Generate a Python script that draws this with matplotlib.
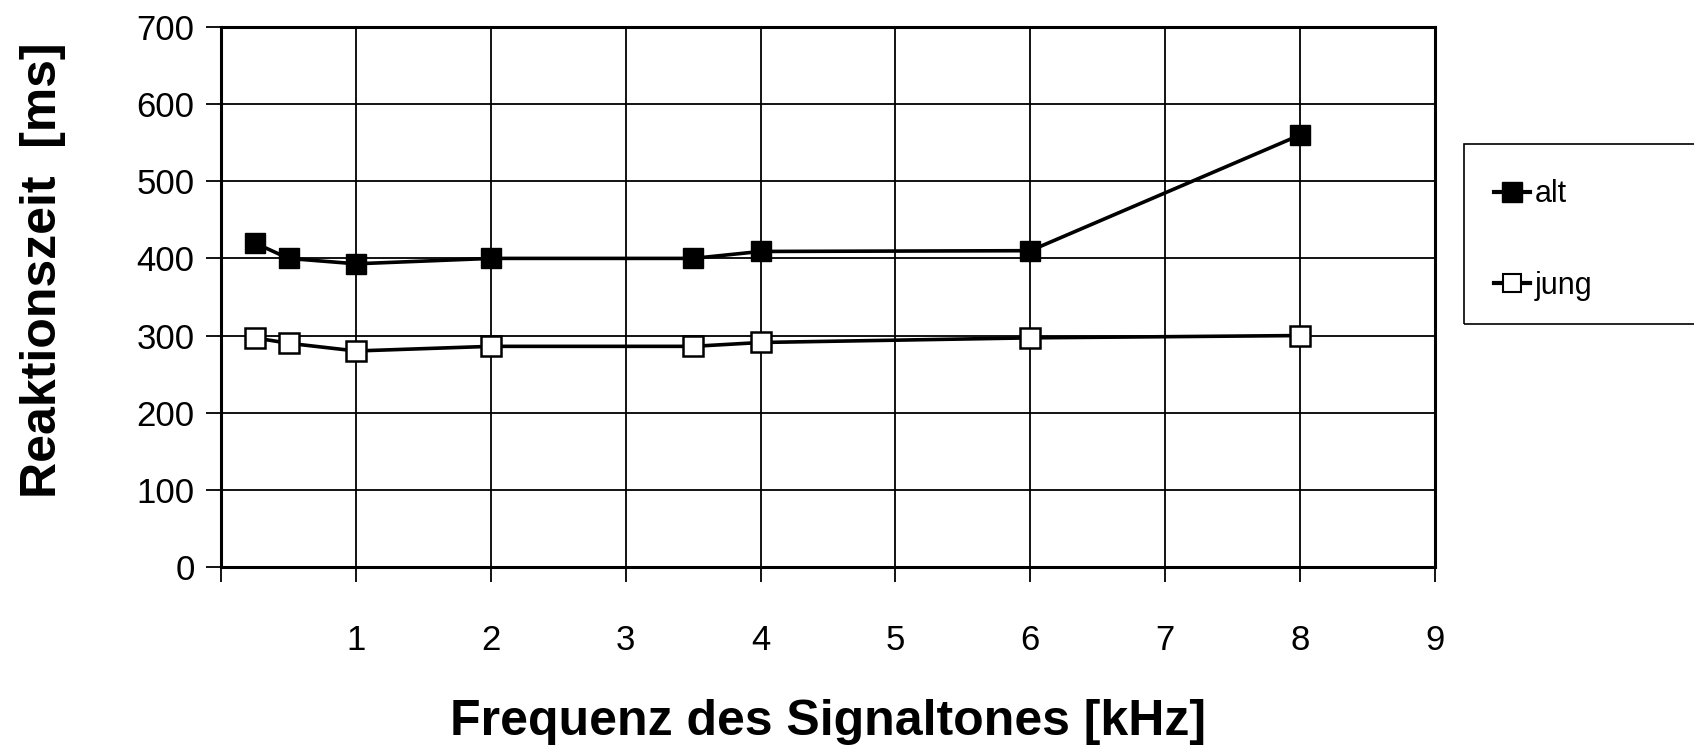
import matplotlib.pyplot as plt
from matplotlib.patches import Rectangle
from matplotlib.lines import Line2D

# Reaktionszeit in Abhaengigkeit von der Frequenz
freq_alt = [0.25, 0.5, 1, 2, 3.5, 4, 6, 8]
rt_alt = [420, 400, 393, 400, 400, 409, 410, 560]
freq_jung = [0.25, 0.5, 1, 2, 3.5, 4, 6, 8]
rt_jung = [297, 290, 280, 286, 286, 291, 297, 300]

plt.rcParams['font.family'] = ['Liberation Sans', 'DejaVu Sans']

fig = plt.figure(figsize=(16.94, 7.47), dpi=100)
ax = fig.add_axes([0.1305, 0.2410, 0.7166, 0.7229])

ax.plot(freq_alt, rt_alt, color='black', lw=2.6, marker='s', ms=14,
        mfc='black', mec='black', zorder=3)
ax.plot(freq_jung, rt_jung, color='black', lw=2.6, marker='s', ms=14,
        mfc='white', mec='black', mew=1.8, zorder=3)

ax.set_xlim(0, 9)
ax.set_ylim(0, 700)
ax.set_xticks(range(0, 10))
ax.set_xticklabels([''] + [str(i) for i in range(1, 10)])
ax.set_yticks(range(0, 800, 100))

ax.grid(True, color='black', lw=1.3)
ax.set_axisbelow(True)
for s in ax.spines.values():
    s.set_linewidth(2.2)
    s.set_color('black')

ax.tick_params(axis='both', direction='out', length=11, width=1.3,
               labelsize=25, colors='black')
ax.tick_params(axis='x', pad=30)
ax.tick_params(axis='y', pad=8)

ax.set_xlabel('Frequenz des Signaltones [kHz]', fontsize=36,
              fontweight='bold')
ax.set_ylabel('Reaktionszeit  [ms]', fontsize=36, fontweight='bold')
ax.xaxis.set_label_coords(0.5, -0.245)
ax.yaxis.set_label_coords(-0.128, 0.55)

# Legende rechts neben dem Diagramm
fig.patches.append(Rectangle((1464 / 1694, 1 - 324 / 747), 0.2, 180 / 747,
                             transform=fig.transFigure, fill=False,
                             edgecolor='black', lw=1.2))
handles = [Line2D([], [], color='black', lw=3, marker='s', ms=14,
                  mfc='black', mec='black'),
           Line2D([], [], color='black', lw=3, marker='s', ms=13,
                  mfc='white', mec='black', mew=1.5)]
fig.legend(handles, ['alt', 'jung'], loc='center left',
           bbox_to_anchor=(1466 / 1694, 1 - 240 / 747), frameon=False,
           fontsize=22, handlelength=1.2, handletextpad=0.15,
           labelspacing=2.0)

fig.savefig('out.png', dpi=100)
